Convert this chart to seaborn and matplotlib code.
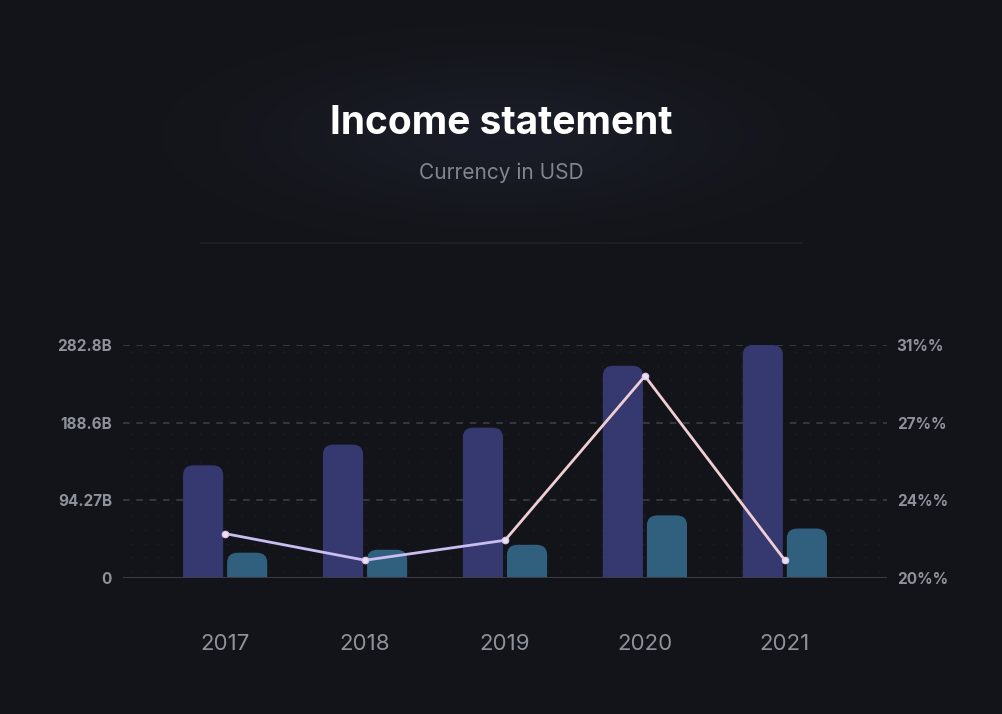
import numpy as np
import pandas as pd
import matplotlib
matplotlib.use("Agg")
import matplotlib.pyplot as plt
from matplotlib.patches import FancyBboxPatch
import seaborn as sns

# data (billions USD / percent)
years = ["2017", "2018", "2019", "2020", "2021"]
revenue = [136.8, 161.9, 182.5, 257.6, 282.8]
net_income = [30.7, 34.3, 40.3, 76.0, 60.0]
margin = [22.4, 21.2, 22.1, 29.5, 21.2]
left_ticks = [0, 94.27, 188.6, 282.8]
left_labels = ["0", "94.27B", "188.6B", "282.8B"]
right_ticks = [20.4, 23.9, 27.4, 30.9]
right_labels = ["20%%", "24%%", "27%%", "31%%"]

BG = "#131419"
REV_COLOR = "#363870"
NI_COLOR = "#31607f"
GRID = "#3b3e46"
TICK = "#8d929b"

sns.set_theme(style="dark")
plt.rcParams["font.family"] = ["Inter", "DejaVu Sans"]

df = pd.DataFrame({
    "Year": years * 2,
    "Value": revenue + net_income,
    "Series": ["Revenue"] * 5 + ["Net income"] * 5,
})

fig = plt.figure(figsize=(10.03, 7.14), dpi=100, facecolor=BG)

# soft glow behind the header
bg_ax = fig.add_axes([0, 0, 1, 1], zorder=-5)
yy, xx = np.mgrid[0:714, 0:1003]
glow = np.exp(-(((xx - 501) / 230) ** 2 + ((yy - 135) / 75) ** 2))
bg_ax.imshow(glow, cmap=matplotlib.colors.LinearSegmentedColormap.from_list(
    "g", [BG, "#1a1d27"]), aspect="auto", extent=[0, 1, 0, 1], origin="upper")
bg_ax.axis("off")

ax = fig.add_axes([123 / 1003, 1 - 578 / 714, (887 - 123) / 1003, (578 - 345) / 714])
ax.set_facecolor(BG)

# faint dotted texture behind the plot
gx, gy = np.meshgrid(np.linspace(0.01, 0.99, 55), np.linspace(0.03, 0.97, 17))
ax.scatter(gx.ravel(), gy.ravel(), s=2, color="#1c1e25", transform=ax.transAxes,
           zorder=0, linewidths=0)

sns.barplot(data=df, x="Year", y="Value", hue="Series", ax=ax,
            palette=[REV_COLOR, NI_COLOR], width=0.63, gap=0.09,
            legend=False, zorder=2, saturation=1)

ax.set_xlim(-0.73, 4.73)
ax.set_ylim(0, 282.8)

# rounded tops: rebuild each bar from its own geometry
rx = 0.075
ry = 12.0
for p in list(ax.patches):
    x, y = p.get_x(), p.get_y()
    w, h = p.get_width(), p.get_height()
    fc = p.get_facecolor()
    p.remove()
    ax.add_patch(FancyBboxPatch((x, y - ry), w, h + ry,
                                boxstyle=f"round,pad=0,rounding_size={rx}",
                                mutation_aspect=ry / rx, facecolor=fc,
                                edgecolor="none", zorder=2))

for t in left_ticks[1:]:
    ax.axhline(t, color=GRID, lw=1.2, ls=(0, (4, 4)), zorder=1)
ax.axhline(0, color="#3a3c44", lw=1.5, zorder=3)

ax.set_yticks(left_ticks)
ax.set_yticklabels(left_labels, fontsize=11, fontweight="bold", color=TICK)
ax.tick_params(axis="y", length=0, pad=8)
ax.tick_params(axis="x", length=0, pad=40, labelsize=16, labelcolor=TICK)
ax.set_xlabel("")
ax.set_ylabel("")
for s in ax.spines.values():
    s.set_visible(False)
ax.grid(False)

# margin line on secondary axis
ax2 = ax.twinx()
ax2.set_ylim(20.4, 30.9)
xs = np.arange(len(years))
ax2.plot(xs[:3], margin[:3], color="#c9bdf2", lw=2, zorder=4)
ax2.plot(xs[2:], margin[2:], color="#efcfd2", lw=2, zorder=4)
ax2.scatter(xs, margin, s=22, color="#f3dde8", edgecolor="#d7c8f5",
            linewidths=0.8, zorder=5)
ax2.set_yticks(right_ticks)
ax2.set_yticklabels(right_labels, fontsize=11, fontweight="bold", color=TICK)
ax2.tick_params(axis="y", length=0, pad=7)
ax2.grid(False)
for s in ax2.spines.values():
    s.set_visible(False)

# header
fig.text(0.5, 1 - 123 / 714, "Income statement", ha="center", va="center",
         fontsize=28, fontweight="bold", color="white")
fig.text(0.5, 1 - 173 / 714, "Currency in USD", ha="center", va="center",
         fontsize=15, color="#80858f")
fig.add_artist(plt.Line2D([0.2, 0.8], [1 - 243 / 714] * 2, color="#1c1e24", lw=1.5))

fig.savefig("out.png", dpi=100, facecolor=BG)
